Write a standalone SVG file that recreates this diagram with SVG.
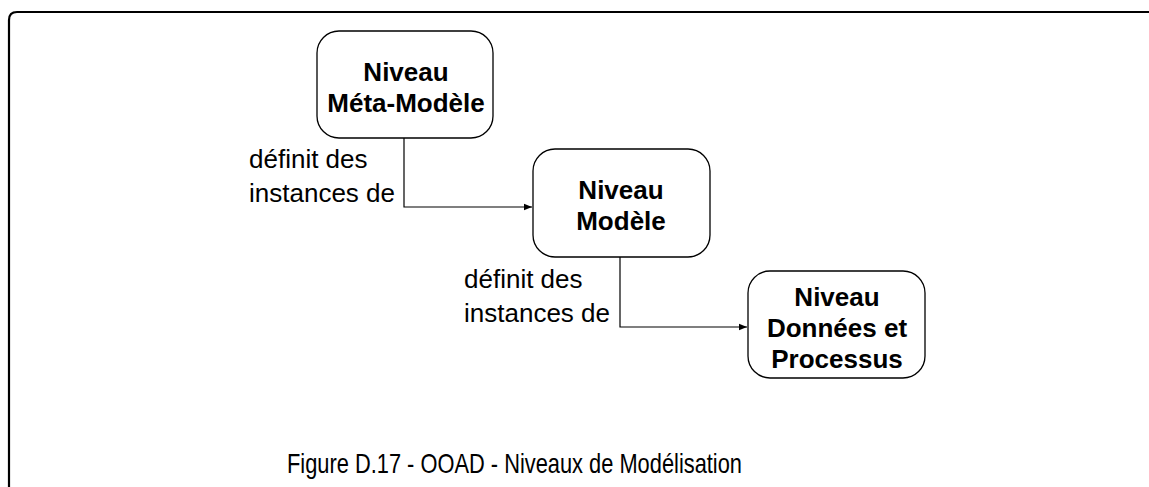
<svg xmlns="http://www.w3.org/2000/svg" width="1149" height="487" viewBox="0 0 1149 487">
<style>
.box{fill:#fff;stroke:#000;stroke-width:1.3}
.bt{font-family:"Liberation Sans",Arial,sans-serif;font-weight:bold;font-size:26px;text-anchor:middle;fill:#000}
.lt{font-family:"Liberation Sans",Arial,sans-serif;font-size:26px;fill:#000}
.cap{font-family:"Liberation Sans",Arial,sans-serif;font-size:28px;fill:#000}
.conn{fill:none;stroke:#000;stroke-width:1.2}
</style>
<defs>
<marker id="arr" viewBox="0 0 10 10" refX="10" refY="5" markerWidth="14" markerHeight="8" markerUnits="userSpaceOnUse" orient="auto">
<path d="M0,1 L10,5 L0,9 Z" fill="#000"/>
</marker>
</defs>
<rect width="1149" height="487" fill="#fff"/>
<path id="frame" d="M9,490 L9,20 Q9,12 17,12 L1152,12" fill="none" stroke="#000" stroke-width="2.2"/>
<g id="connectors">
<path class="conn" d="M404,138 L404,207 L532,207" marker-end="url(#arr)"/>
<path class="conn" d="M620,257 L620,327 L747,327" marker-end="url(#arr)"/>
</g>
<g id="labels">
<text class="lt" x="249" y="168">définit des</text>
<text class="lt" x="249" y="202">instances de</text>
<text class="lt" x="464" y="288">définit des</text>
<text class="lt" x="464" y="322">instances de</text>
</g>
<g id="meta">
<rect class="box" x="317" y="31" width="176" height="107" rx="22"/>
<text class="bt" x="406" y="81">Niveau</text>
<text class="bt" x="406" y="112">Méta-Modèle</text>
</g>
<g id="modele">
<rect class="box" x="533" y="149" width="177" height="108" rx="22"/>
<text class="bt" x="621" y="199">Niveau</text>
<text class="bt" x="621" y="230">Modèle</text>
</g>
<g id="donnees">
<rect class="box" x="748" y="271" width="177" height="107" rx="22"/>
<text class="bt" x="837" y="306">Niveau</text>
<text class="bt" x="837" y="337">Données et</text>
<text class="bt" x="837" y="368">Processus</text>
</g>
<text class="cap" x="287" y="473" textLength="455" lengthAdjust="spacingAndGlyphs">Figure D.17 - OOAD - Niveaux de Modélisation</text>
</svg>
